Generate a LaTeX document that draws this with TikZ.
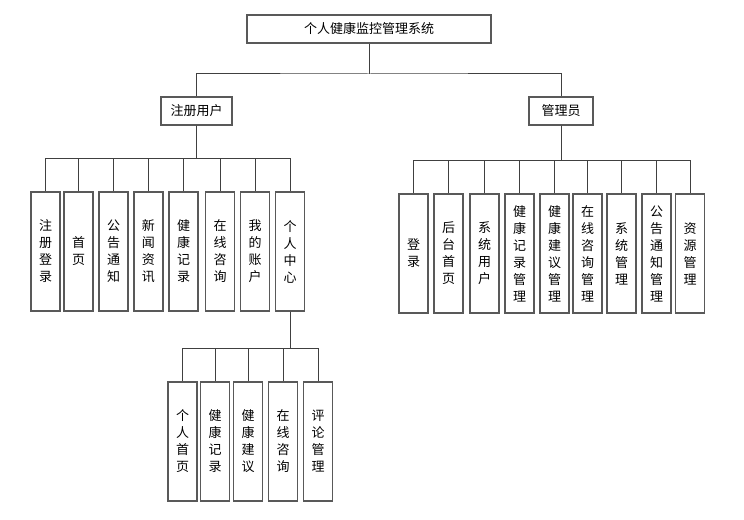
\documentclass[tikz,border=0pt]{standalone}
\usepackage{fontspec}
\setmainfont{Noto Sans CJK SC}
\usepackage{tikz}
\usetikzlibrary{calc}

\tikzset{
  box/.style={draw=black!65, line width=0.9pt, inner sep=0pt, align=center,
    font=\fontsize{9.75}{12.75}\selectfont},
  hbox/.style={box, minimum height=21pt},
  vbox/.style={box, minimum width=21.75pt, minimum height=89.25pt},
  link/.style={draw=black!75, line width=0.75pt}
}

\begin{document}
\begin{tikzpicture}[x=0.75pt, y=-0.75pt] % 1単位 = 1px
  \useasboundingbox (0,0) rectangle (744,520); % 余白込みの大きさ

  % 上の三つ
  \node[hbox, minimum width=183pt] (root) at (369,29) {个人健康监控管理系统};
  \node[hbox, minimum width=53.25pt] (user) at (196.5,111) {注册用户};
  \node[hbox, minimum width=48pt] (admin) at (561,111) {管理员};
  \coordinate (b0) at (369,74); % 分岐点
  \draw[link] (root.south) -- (b0);
  \draw[link] (user.north) |- (b0) -| (admin.north);

  % 注册用户の下
  \foreach \n/\x/\t in {u1/45.5/{注\\册\\登\\录}, u2/78.5/{首\\页}, u3/113.5/{公\\告\\通\\知},
      u4/148.5/{新\\闻\\资\\讯}, u5/183.5/{健\\康\\记\\录}, u6/220/{在\\线\\咨\\询},
      u7/255/{我\\的\\账\\户}, u8/290/{个\\人\\中\\心}}{
    \node[vbox] (\n) at (\x,251.5) {\t};
    \draw[link] (user.south) -- ++(0,33) -| (\n.north);
  }

  % 管理员の下
  \foreach \n/\x/\t in {a1/413.5/{登\\录}, a2/448.5/{后\\台\\首\\页}, a3/484.5/{系\\统\\用\\户},
      a4/519.5/{健\\康\\记\\录\\管\\理}, a5/554.5/{健\\康\\建\\议\\管\\理},
      a6/587.5/{在\\线\\咨\\询\\管\\理}, a7/621.5/{系\\统\\管\\理},
      a8/656.5/{公\\告\\通\\知\\管\\理}, a9/690/{资\\源\\管\\理}}{
    \node[vbox] (\n) at (\x,253.5) {\t};
    \draw[link] (admin.south) -- ++(0,35) -| (\n.north);
  }

  % 个人中心の下
  \foreach \n/\x/\t in {p1/182.5/{个\\人\\首\\页}, p2/215/{健\\康\\记\\录}, p3/248/{健\\康\\建\\议},
      p4/283/{在\\线\\咨\\询}, p5/318/{评\\论\\管\\理}}{
    \node[vbox] (\n) at (\x,441.5) {\t};
    \draw[link] (u8.south) -- ++(0,37) -| (\n.north);
  }
\end{tikzpicture}
\end{document}
